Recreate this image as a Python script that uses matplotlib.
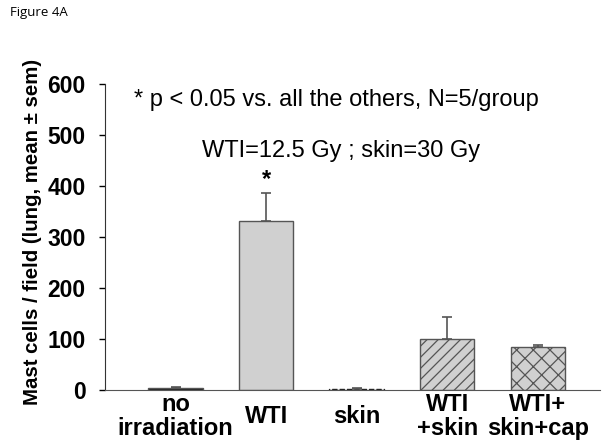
import matplotlib
matplotlib.use("Agg")
import matplotlib.pyplot as plt

plt.rcParams['font.family'] = ['Liberation Sans', 'DejaVu Sans']
plt.rcParams['hatch.linewidth'] = 0.9

groups = ["no\nirradiation", "WTI", "skin", "WTI\n+skin", "WTI+\nskin+cap"]
means = [4, 331, 1, 100, 84]
sems = [2, 55, 2, 43, 5]
fills = ["#111111", "#d0d0d0", "white", "#d0d0d0", "#d0d0d0"]
hatches = [None, None, None, "///", "xx"]
yticks = [0, 100, 200, 300, 400, 500, 600]

fig = plt.figure(figsize=(6.1, 4.46), dpi=100)
ax = fig.add_axes([0.172, 0.1256, 0.812, 0.686])

x = list(range(len(groups)))
bars = ax.bar(x, means, width=0.6, color=fills, edgecolor="#555555", linewidth=1.0)
for b, h in zip(bars, hatches):
    if h:
        b.set_hatch(h)
bars[2].set_linestyle("--")
bars[2].set_edgecolor("#222222")

ax.errorbar(x, means, yerr=[[0] * len(sems), sems], fmt="none",
            ecolor="#555555", elinewidth=1.2, capsize=3.5, capthick=1.2)

ax.text(1, means[1] + sems[1] + 4, "*", ha="center", va="bottom",
        fontsize=17, fontweight="bold")
ax.text(1.78, 568, "* p < 0.05 vs. all the others, N=5/group",
        ha="center", va="center", fontsize=17)
ax.text(1.83, 468, "WTI=12.5 Gy ; skin=30 Gy",
        ha="center", va="center", fontsize=17)

ax.set_xlim(-0.78, 4.69)
ax.set_ylim(0, 600)
ax.set_yticks(yticks)
ax.set_yticklabels([str(t) for t in yticks], fontsize=16.5, fontweight="bold")
ax.set_xticks(x)
ax.set_xticklabels(groups, fontsize=17, fontweight="bold", linespacing=1.08)
for lab in ax.get_xticklabels():
    lab.set_verticalalignment("center")
ax.tick_params(axis="x", length=0, pad=19)
ax.tick_params(axis="y", length=4.3, width=1, pad=9.5, direction="out")

ax.spines["top"].set_visible(False)
ax.spines["right"].set_visible(False)
ax.spines["left"].set_color("#333333")
ax.spines["bottom"].set_color("#555555")

ax.set_ylabel("Mast cells / field (lung, mean ± sem)", fontsize=14.7,
              fontweight="bold")
ax.yaxis.set_label_coords(-0.128, 0.515)

fig.text(0.016, 0.972, "Figure 4A", fontsize=9.5, ha="left", va="center",
         family="Open Sans")

fig.savefig("out.png", dpi=100)
